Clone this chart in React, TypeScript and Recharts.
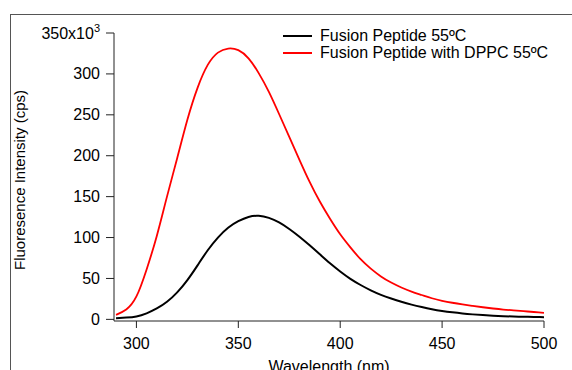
import React from 'react';
import { LineChart, Line, XAxis, YAxis, Legend } from 'recharts';

const wavelengths = [
  290, 295, 300, 305, 310, 315, 320, 325, 330, 335, 340, 345, 350, 355, 360, 365, 370, 375, 380, 385,
  390, 395, 400, 405, 410, 415, 420, 425, 430, 435, 440, 445, 450, 455, 460, 465, 470, 475, 480, 485,
  490, 495, 500,
];

// intensities in thousands of cps
const peptideOnly = [
  1.5, 2.2, 3.6, 7.4, 13.3, 21.5, 33, 48, 66, 84.5, 100, 112, 120, 125.2, 126.5, 124, 118.5, 110.5, 101, 90.5,
  79.5, 68.5, 58.5, 49.5, 42, 35.5, 30, 25.5, 21.5, 18, 15, 12.4, 10.3, 8.6, 7.2, 6.1, 5.2, 4.5, 3.9, 3.5,
  3.2, 2.9, 2.7,
];

const peptideWithDppc = [
  5.5, 12, 28, 61, 102, 150, 197, 244, 283, 311, 326, 331, 329, 319, 301, 278, 251, 223, 195, 168,
  144, 123, 104, 88, 73.5, 62, 52.5, 45, 39, 34, 29.8, 25.8, 22.7, 20.3, 18.3, 16.5, 14.8, 13.3, 12, 11,
  10, 9, 8,
];

const xTicks = [300, 350, 400, 450, 500];
const yTicks = [0, 50, 100, 150, 200, 250, 300, 350];

const seriesNames = ['Fusion Peptide 55ºC', 'Fusion Peptide with DPPC 55ºC'];

const data = wavelengths.map((w, i) => ({
  wavelength: w,
  peptide: peptideOnly[i],
  dppc: peptideWithDppc[i],
}));

const FONT = '"Liberation Sans", Arial, sans-serif';
const AXIS = '#222';

function YTick(props: any) {
  const { x, y, payload } = props;
  const v = payload.value;
  return (
    <text x={x} y={y} dy={5.5} textAnchor="end" fill="#000" fontSize={16} fontFamily={FONT}>
      {v === 350 ? (
        <>
          350x10<tspan fontSize={11} dy={-7}>3</tspan>
        </>
      ) : (
        v
      )}
    </text>
  );
}

function LegendBox(props: any) {
  const { payload } = props;
  return (
    <div style={{ fontFamily: FONT, fontSize: 16, color: '#000' }}>
      {(payload || []).map((p: any) => (
        <div key={p.value} style={{ display: 'flex', alignItems: 'center', height: 17.5 }}>
          <span style={{ display: 'inline-block', width: 29, height: 2, background: p.color, marginRight: 8 }} />
          <span>{p.value}</span>
        </div>
      ))}
    </div>
  );
}

export default function App() {
  return (
    <div style={{ position: 'absolute', left: 0, top: 0, width: 572, height: 370, background: '#fff', overflow: 'hidden' }}>
      <div style={{ position: 'absolute', left: 10, top: 14, right: 0, bottom: 0, borderTop: '1px solid #555', borderLeft: '1px solid #555' }} />
      <LineChart width={572} height={370} data={data} margin={{ top: 33, right: 28, left: 0, bottom: 0 }}>
        <XAxis
          dataKey="wavelength"
          type="number"
          domain={[289, 500]}
          ticks={xTicks}
          allowDataOverflow
          height={49}
          stroke={AXIS}
          tickSize={7}
          tickMargin={10}
          tick={{ fill: '#000', fontSize: 16, fontFamily: FONT }}
          label={{ value: 'Wavelength (nm)', position: 'insideBottom', offset: -2, fill: '#000', fontSize: 16, fontFamily: FONT }}
        />
        <YAxis
          type="number"
          domain={[-2, 350]}
          ticks={yTicks}
          allowDataOverflow
          width={114}
          stroke={AXIS}
          tickSize={8}
          tickMargin={6}
          tick={<YTick />}
          label={{ value: 'Fluoresence Intensity (cps)', angle: -90, position: 'insideLeft', offset: 20, dy: 3, fill: '#000', fontSize: 15, fontFamily: FONT, style: { textAnchor: 'middle' } }}
        />
        <Legend
          layout="vertical"
          align="center"
          verticalAlign="middle"
          wrapperStyle={{ top: 27, left: 283, width: 'auto' }}
          content={<LegendBox />}
        />
        <Line
          dataKey="peptide"
          name={seriesNames[0]}
          type="natural"
          stroke="#000"
          strokeWidth={2}
          dot={false}
          isAnimationActive={false}
        />
        <Line
          dataKey="dppc"
          name={seriesNames[1]}
          type="natural"
          stroke="#ff0000"
          strokeWidth={1.8}
          dot={false}
          isAnimationActive={false}
        />
      </LineChart>
    </div>
  );
}
